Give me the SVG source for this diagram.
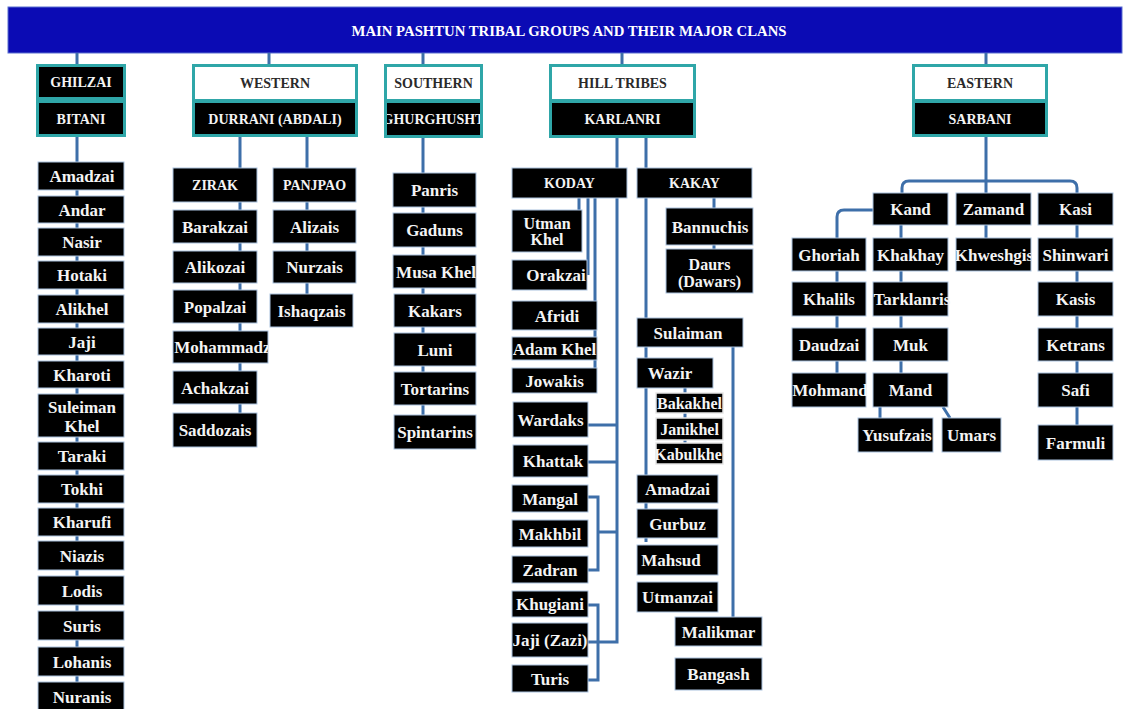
<svg xmlns="http://www.w3.org/2000/svg" width="1124" height="709" viewBox="0 0 1124 709">
<style>
.t{font-family:"Liberation Serif",serif;font-weight:bold;font-size:17px;fill:#f4f4f4;text-anchor:middle}
.h{font-size:14px}
.s{font-size:16px}
.dk{fill:#2a2a2a}
.b{fill:#000;stroke:#aac2de;stroke-width:1}
.bw{fill:#000;stroke:#e6e6e6;stroke-width:1.5}
.fr{fill:#2fa6a8}
.wh{fill:#fff}
.ln{stroke:#3e6fa9;stroke-width:3;fill:none}
.title{font-family:"Liberation Serif",serif;font-weight:bold;font-size:14.5px;fill:#fff;text-anchor:middle}
</style>
<defs>
<clipPath id="c-moh"><rect x="173" y="331" width="95" height="32"/></clipPath>
<clipPath id="c-ghu"><rect x="387" y="103" width="93" height="32"/></clipPath>
<clipPath id="c-khw"><rect x="956" y="238" width="75" height="33"/></clipPath>
<clipPath id="c-tar"><rect x="873" y="282" width="78" height="34"/></clipPath>
<clipPath id="c-yus"><rect x="858" y="418" width="76" height="34"/></clipPath>
<clipPath id="c-kab"><rect x="656" y="443" width="67" height="21"/></clipPath>
</defs>
<rect width="1124" height="709" fill="#fff"/>
<g id="title">
<rect x="8" y="7" width="1114" height="46" fill="#0b0bb4" stroke="#5a6fd0" stroke-width="1"/>
<text class="title" x="569" y="36" textLength="435" lengthAdjust="spacingAndGlyphs">MAIN PASHTUN TRIBAL GROUPS AND THEIR MAJOR CLANS</text>
</g>
<g id="connectors">
<path class="ln" d="M77 53V64M269 53V64M423 53V64M622 53V64M986 53V64"/>
<path class="ln" d="M77 137V709"/>
<path class="ln" d="M240 137V430M307 137V310"/>
<path class="ln" d="M423 138V432"/>
<path class="ln" d="M617 138V642H588M588 425H617M588 462H617M598 532H617M588 497H598V570H588M588 605H598V680H588"/>
<path class="ln" d="M646 138V542"/>
<path class="ln" d="M579 198V210M588 198V275M595 198V380"/>
<path class="ln" d="M714 198V250M733 347V640M685 388V455"/>
<path class="ln" d="M986 137V193M902 193V188Q902 181 909 181H1070Q1077 181 1077 188V193"/>
<path class="ln" d="M873 210H844Q837 210 837 217V373M901 225V373M986 225V238M1077 225V425M880 407V418M943 407L950 418"/>
</g>
<g id="g-ghilzai">
<rect class="fr" x="36" y="64" width="90" height="73"/>
<rect fill="#000" x="39" y="67" width="84" height="30"/>
<text class="t h" x="81" y="87">GHILZAI</text>
<rect fill="#000" x="39" y="103" width="84" height="31"/>
<text class="t h" x="81" y="123.5">BITANI</text>
</g>
<g id="g-western">
<rect class="fr" x="192" y="64" width="166" height="73"/>
<rect class="wh" x="195" y="67" width="160" height="32"/>
<text class="t h dk" x="275" y="88">WESTERN</text>
<rect fill="#000" x="195" y="103" width="160" height="31"/>
<text class="t h" x="275" y="123.5">DURRANI (ABDALI)</text>
</g>
<g id="g-southern">
<rect class="fr" x="384" y="64" width="99" height="74"/>
<rect class="wh" x="387" y="67" width="93" height="32"/>
<text class="t h dk" x="433.5" y="88">SOUTHERN</text>
<rect fill="#000" x="387" y="103" width="93" height="32"/>
<text class="t h" x="433.5" y="124" clip-path="url(#c-ghu)">GHURGHUSHT</text>
</g>
<g id="g-hill">
<rect class="fr" x="549" y="64" width="147" height="74"/>
<rect class="wh" x="552" y="67" width="141" height="32"/>
<text class="t h dk" x="622.5" y="88">HILL TRIBES</text>
<rect fill="#000" x="552" y="103" width="141" height="32"/>
<text class="t h" x="622.5" y="124">KARLANRI</text>
</g>
<g id="g-eastern">
<rect class="fr" x="912" y="64" width="136" height="73"/>
<rect class="wh" x="915" y="67" width="130" height="32"/>
<text class="t h dk" x="980" y="88">EASTERN</text>
<rect fill="#000" x="915" y="103" width="130" height="31"/>
<text class="t h" x="980" y="123.5">SARBANI</text>
</g>
<g id="n-amadzai1"><rect class="b" x="38" y="162" width="86" height="28"/><text class="t" x="82" y="182">Amadzai</text></g>
<g id="n-andar"><rect class="b" x="38" y="196" width="86" height="27"/><text class="t" x="82" y="215.5">Andar</text></g>
<g id="n-nasir"><rect class="b" x="38" y="228" width="86" height="28"/><text class="t" x="82" y="248">Nasir</text></g>
<g id="n-hotaki"><rect class="b" x="38" y="261" width="86" height="28"/><text class="t" x="82" y="281">Hotaki</text></g>
<g id="n-alikhel"><rect class="b" x="38" y="295" width="86" height="28"/><text class="t" x="82" y="315">Alikhel</text></g>
<g id="n-jaji1"><rect class="b" x="38" y="328" width="86" height="27"/><text class="t" x="82" y="347.5">Jaji</text></g>
<g id="n-kharoti"><rect class="b" x="38" y="361" width="86" height="27"/><text class="t" x="82" y="380.5">Kharoti</text></g>
<g id="n-suleimankhel"><rect class="b" x="38" y="394" width="86" height="43"/><text class="t" x="82" y="413">Suleiman</text><text class="t" x="82" y="432">Khel</text></g>
<g id="n-taraki"><rect class="b" x="38" y="442" width="86" height="28"/><text class="t" x="82" y="462">Taraki</text></g>
<g id="n-tokhi"><rect class="b" x="38" y="475" width="86" height="28"/><text class="t" x="82" y="495">Tokhi</text></g>
<g id="n-kharufi"><rect class="b" x="38" y="508" width="86" height="28"/><text class="t" x="82" y="528">Kharufi</text></g>
<g id="n-niazis"><rect class="b" x="38" y="541" width="86" height="29"/><text class="t" x="82" y="561.5">Niazis</text></g>
<g id="n-lodis"><rect class="b" x="38" y="576" width="86" height="29"/><text class="t" x="82" y="596.5">Lodis</text></g>
<g id="n-suris"><rect class="b" x="38" y="611" width="86" height="29"/><text class="t" x="82" y="631.5">Suris</text></g>
<g id="n-lohanis"><rect class="b" x="38" y="647" width="86" height="29"/><text class="t" x="82" y="667.5">Lohanis</text></g>
<g id="n-nuranis"><rect class="b" x="38" y="682" width="86" height="30"/><text class="t" x="82" y="703">Nuranis</text></g>
<g id="n-zirak"><rect class="b" x="173" y="168" width="84" height="34"/><text class="t h" x="215" y="190">ZIRAK</text></g>
<g id="n-panjpao"><rect class="b" x="273" y="168" width="83" height="34"/><text class="t h" x="314.5" y="190">PANJPAO</text></g>
<g id="n-barakzai"><rect class="b" x="173" y="210" width="84" height="33"/><text class="t" x="215" y="232.5">Barakzai</text></g>
<g id="n-alizais"><rect class="b" x="273" y="210" width="83" height="33"/><text class="t" x="314.5" y="232.5">Alizais</text></g>
<g id="n-alikozai"><rect class="b" x="173" y="251" width="84" height="32"/><text class="t" x="215" y="273">Alikozai</text></g>
<g id="n-nurzais"><rect class="b" x="273" y="251" width="83" height="32"/><text class="t" x="314.5" y="273">Nurzais</text></g>
<g id="n-popalzai"><rect class="b" x="173" y="290" width="84" height="33"/><text class="t" x="215" y="312.5">Popalzai</text></g>
<g id="n-ishaqzais"><rect class="b" x="270" y="294" width="83" height="33"/><text class="t" x="311.5" y="316.5">Ishaqzais</text></g>
<g id="n-mohammadzai"><rect class="b" x="173" y="331" width="95" height="32"/><text class="t" x="229" y="353" clip-path="url(#c-moh)">Mohammadzai</text></g>
<g id="n-achakzai"><rect class="b" x="173" y="371" width="84" height="33"/><text class="t" x="215" y="393.5">Achakzai</text></g>
<g id="n-saddozais"><rect class="b" x="173" y="413" width="84" height="34"/><text class="t" x="215" y="436">Saddozais</text></g>
<g id="n-panris"><rect class="b" x="393" y="173" width="83" height="34"/><text class="t" x="434.5" y="196">Panris</text></g>
<g id="n-gaduns"><rect class="b" x="393" y="213" width="83" height="34"/><text class="t" x="434.5" y="236">Gaduns</text></g>
<g id="n-musakhel"><rect class="b" x="393" y="255" width="83" height="33"/><text class="t" x="436" y="277.5">Musa Khel</text></g>
<g id="n-kakars"><rect class="b" x="394" y="294" width="82" height="33"/><text class="t" x="435" y="316.5">Kakars</text></g>
<g id="n-luni"><rect class="b" x="394" y="333" width="82" height="33"/><text class="t" x="435" y="355.5">Luni</text></g>
<g id="n-tortarins"><rect class="b" x="394" y="372" width="82" height="33"/><text class="t" x="435" y="394.5">Tortarins</text></g>
<g id="n-spintarins"><rect class="b" x="394" y="415" width="82" height="34"/><text class="t" x="435" y="438">Spintarins</text></g>
<g id="n-koday"><rect class="b" x="512" y="168" width="115" height="30"/><text class="t h" x="569.5" y="188">KODAY</text></g>
<g id="n-kakay"><rect class="b" x="637" y="168" width="115" height="30"/><text class="t h" x="694.5" y="188">KAKAY</text></g>
<g id="n-utmankhel"><rect class="b" x="512" y="210" width="70" height="42"/><text class="t s" x="547" y="229">Utman</text><text class="t s" x="547" y="245">Khel</text></g>
<g id="n-orakzai"><rect class="b" x="512" y="260" width="75" height="30"/><text class="t" x="556" y="281">Orakzai</text></g>
<g id="n-afridi"><rect class="b" x="512" y="301" width="85" height="29"/><text class="t" x="557" y="321.5">Afridi</text></g>
<g id="n-adamkhel"><rect class="b" x="512" y="337" width="85" height="23"/><text class="t" x="554.5" y="354.5">Adam Khel</text></g>
<g id="n-jowakis"><rect class="b" x="512" y="368" width="85" height="25"/><text class="t" x="554.5" y="386.5">Jowakis</text></g>
<g id="n-wardaks"><rect class="b" x="513" y="402" width="75" height="35"/><text class="t" x="550.5" y="425.5">Wardaks</text></g>
<g id="n-khattak"><rect class="b" x="513" y="445" width="75" height="32"/><text class="t" x="553" y="467">Khattak</text></g>
<g id="n-mangal"><rect class="b" x="512" y="485" width="76" height="27"/><text class="t" x="550" y="504.5">Mangal</text></g>
<g id="n-makhbil"><rect class="b" x="512" y="520" width="76" height="27"/><text class="t" x="550" y="539.5">Makhbil</text></g>
<g id="n-zadran"><rect class="b" x="512" y="556" width="76" height="27"/><text class="t" x="550" y="575.5">Zadran</text></g>
<g id="n-khugiani"><rect class="b" x="512" y="591" width="76" height="26"/><text class="t" x="550" y="610">Khugiani</text></g>
<g id="n-jajizazi"><rect class="b" x="512" y="623" width="76" height="34"/><text class="t" x="550" y="646">Jaji (Zazi)</text></g>
<g id="n-turis"><rect class="b" x="512" y="665" width="76" height="27"/><text class="t" x="550" y="684.5">Turis</text></g>
<g id="n-bannuchis"><rect class="b" x="666" y="208" width="87" height="37"/><text class="t" x="710" y="232.5">Bannuchis</text></g>
<g id="n-daurs"><rect class="b" x="666" y="249" width="87" height="44"/><text class="t s" x="709.5" y="270">Daurs</text><text class="t s" x="709.5" y="287">(Dawars)</text></g>
<g id="n-sulaiman"><rect class="b" x="637" y="318" width="106" height="29"/><text class="t" x="688" y="338.5">Sulaiman</text></g>
<g id="n-wazir"><rect class="b" x="637" y="358" width="76" height="30"/><text class="t" x="670" y="379">Wazir</text></g>
<g id="n-bakakhel"><rect class="bw" x="656" y="393" width="67" height="20"/><text class="t s" x="689.5" y="409">Bakakhel</text></g>
<g id="n-janikhel"><rect class="bw" x="656" y="418" width="67" height="22"/><text class="t s" x="689.5" y="435">Janikhel</text></g>
<g id="n-kabulkhe"><rect class="bw" x="656" y="443" width="67" height="21"/><text class="t s" x="688" y="459.5" clip-path="url(#c-kab)">Kabulkhe</text></g>
<g id="n-amadzai2"><rect class="b" x="637" y="475" width="81" height="28"/><text class="t" x="677.5" y="495">Amadzai</text></g>
<g id="n-gurbuz"><rect class="b" x="637" y="509" width="81" height="29"/><text class="t" x="677.5" y="529.5">Gurbuz</text></g>
<g id="n-mahsud"><rect class="b" x="637" y="545" width="81" height="30"/><text class="t" x="671" y="566">Mahsud</text></g>
<g id="n-utmanzai"><rect class="b" x="637" y="582" width="81" height="30"/><text class="t" x="677.5" y="603">Utmanzai</text></g>
<g id="n-malikmar"><rect class="b" x="675" y="617" width="87" height="29"/><text class="t" x="718.5" y="637.5">Malikmar</text></g>
<g id="n-bangash"><rect class="b" x="675" y="658" width="87" height="32"/><text class="t" x="718.5" y="680">Bangash</text></g>
<g id="n-kand"><rect class="b" x="873" y="193" width="75" height="32"/><text class="t" x="910.5" y="215">Kand</text></g>
<g id="n-zamand"><rect class="b" x="956" y="193" width="75" height="32"/><text class="t" x="993.5" y="215">Zamand</text></g>
<g id="n-kasi"><rect class="b" x="1038" y="193" width="75" height="32"/><text class="t" x="1075.5" y="215">Kasi</text></g>
<g id="n-ghoriah"><rect class="b" x="792" y="238" width="74" height="33"/><text class="t" x="829" y="260.5">Ghoriah</text></g>
<g id="n-khakhay"><rect class="b" x="873" y="238" width="75" height="33"/><text class="t" x="910.5" y="260.5">Khakhay</text></g>
<g id="n-khweshgis"><rect class="b" x="956" y="238" width="75" height="33"/><text class="t" x="994" y="260.5" clip-path="url(#c-khw)">Khweshgis</text></g>
<g id="n-shinwari"><rect class="b" x="1038" y="238" width="75" height="33"/><text class="t" x="1075.5" y="260.5">Shinwari</text></g>
<g id="n-khalils"><rect class="b" x="792" y="282" width="74" height="34"/><text class="t" x="829" y="305">Khalils</text></g>
<g id="n-tarklanris"><rect class="b" x="873" y="282" width="75" height="34"/><text class="t" x="912" y="305" clip-path="url(#c-tar)">Tarklanris</text></g>
<g id="n-kasis"><rect class="b" x="1038" y="282" width="75" height="34"/><text class="t" x="1075.5" y="305">Kasis</text></g>
<g id="n-daudzai"><rect class="b" x="792" y="328" width="74" height="33"/><text class="t" x="829" y="350.5">Daudzai</text></g>
<g id="n-muk"><rect class="b" x="873" y="328" width="75" height="33"/><text class="t" x="910.5" y="350.5">Muk</text></g>
<g id="n-ketrans"><rect class="b" x="1038" y="328" width="75" height="33"/><text class="t" x="1075.5" y="350.5">Ketrans</text></g>
<g id="n-mohmand"><rect class="b" x="792" y="373" width="74" height="34"/><text class="t" x="830" y="396">Mohmand</text></g>
<g id="n-mand"><rect class="b" x="873" y="373" width="75" height="34"/><text class="t" x="910.5" y="396">Mand</text></g>
<g id="n-safi"><rect class="b" x="1038" y="373" width="75" height="34"/><text class="t" x="1075.5" y="396">Safi</text></g>
<g id="n-yusufzais"><rect class="b" x="858" y="418" width="75" height="34"/><text class="t" x="897" y="441" clip-path="url(#c-yus)">Yusufzais</text></g>
<g id="n-umars"><rect class="b" x="942" y="418" width="59" height="34"/><text class="t" x="971.5" y="441">Umars</text></g>
<g id="n-farmuli"><rect class="b" x="1038" y="425" width="75" height="35"/><text class="t" x="1075.5" y="448.5">Farmuli</text></g>
</svg>
